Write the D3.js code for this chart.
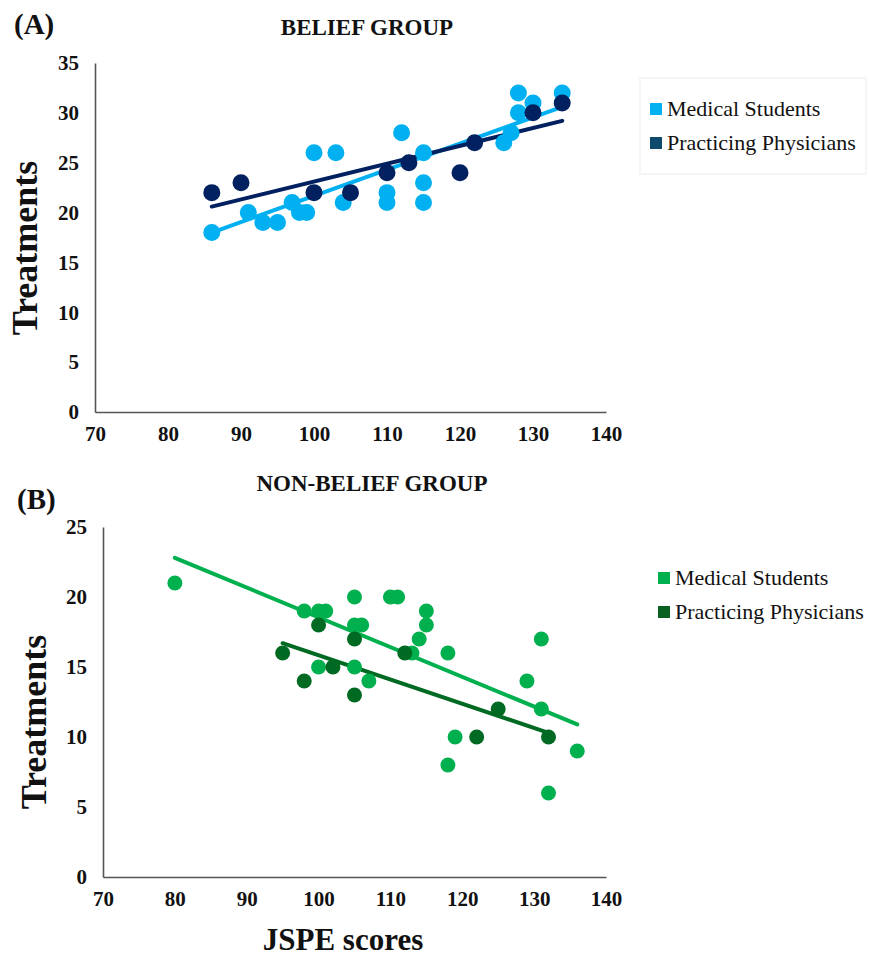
<!DOCTYPE html>
<html>
<head>
<meta charset="utf-8">
<script src="https://cdn.jsdelivr.net/npm/d3@7"></script>
<style>
	body { margin: 0; background: #fff; }
	svg text { font-family: "Liberation Serif", "Times New Roman", serif; fill: #111; }
	.tick text { font-weight: bold; font-size: 21px; font-family: "Liberation Serif", serif; }
</style>
</head>
<body>
<svg id="chart" width="869" height="959"></svg>
<script>
// tick labels
var x_ticks = [70, 80, 90, 100, 110, 120, 130, 140];
var belief_y_ticks = [0, 5, 10, 15, 20, 25, 30, 35];
var nonbelief_y_ticks = [0, 5, 10, 15, 20, 25];
var series_names = ["Medical Students", "Practicing Physicians"];

// (A) belief group: [JSPE score, treatments]
var belief_students = [
	[86, 18], [91, 20], [93, 19], [95, 19], [97, 21], [98, 20], [99, 20],
	[100, 26], [103, 26], [104, 21], [110, 22], [110, 21], [112, 28],
	[115, 26], [115, 23], [115, 21], [126, 27], [127, 28], [128, 30],
	[128, 32], [130, 31], [134, 32]
];
var belief_physicians = [
	[86, 22], [90, 23], [100, 22], [105, 22], [110, 24], [113, 25],
	[120, 24], [122, 27], [130, 30], [134, 31]
];
var belief_students_trend = [[86, 18.0], [134, 30.6]];
var belief_physicians_trend = [[86, 20.6], [134, 29.2]];

// (B) non-belief group
var nonbelief_students = [
	[80, 21], [98, 19], [100, 19], [101, 19], [105, 20], [105, 18], [106, 18],
	[100, 15], [105, 15], [107, 14], [110, 20], [111, 20], [115, 19],
	[115, 18], [114, 17], [113, 16], [118, 16], [131, 17], [129, 14],
	[131, 12], [119, 10], [118, 8], [136, 9], [132, 6]
];
var nonbelief_physicians = [
	[95, 16], [98, 14], [100, 18], [102, 15], [105, 17], [105, 13],
	[112, 16], [125, 12], [122, 10], [132, 10]
];
var nonbelief_students_trend = [[80, 22.8], [136, 10.9]];
var nonbelief_physicians_trend = [[95, 16.7], [132, 10.3]];

var svg = d3.select("#chart");

draw_panel({
	label: "(A)", title: "BELIEF GROUP",
	left: 95, right: 606, top: 63, bottom: 412,
	y_max: 35, y_ticks: belief_y_ticks,
	series: [
		{points: belief_students, trend: belief_students_trend, color: "#00b0f0", r: 8.5},
		{points: belief_physicians, trend: belief_physicians_trend, color: "#002060", r: 8.5}
	],
	legend_colors: ["#00b0f0", "#0e4a6b"],
	legend: {x: 650, y: 103, box: true},
	label_pos: {x: 14, y: 34}, title_pos: {x: 367, y: 35},
	ytitle_pos: {x: 37, y: 248}
});

draw_panel({
	label: "(B)", title: "NON-BELIEF GROUP",
	left: 103, right: 606, top: 527, bottom: 877,
	y_max: 25, y_ticks: nonbelief_y_ticks,
	series: [
		{points: nonbelief_students, trend: nonbelief_students_trend, color: "#00b04f", r: 7.5},
		{points: nonbelief_physicians, trend: nonbelief_physicians_trend, color: "#006a22", r: 7.5}
	],
	legend_colors: ["#00b04f", "#0a5f22"],
	legend: {x: 658, y: 572, box: false},
	label_pos: {x: 17, y: 509}, title_pos: {x: 372, y: 491},
	ytitle_pos: {x: 46, y: 722}
});

svg.append("text")
	.attr("x", 343).attr("y", 950)
	.attr("text-anchor", "middle")
	.style("font-weight", "bold").style("font-size", "31px")
	.text("JSPE scores");

function draw_panel(p){
	var x = d3.scaleLinear().domain([70, 140]).range([p.left, p.right]);
	var y = d3.scaleLinear().domain([0, p.y_max]).range([p.bottom, p.top]);
	var g = svg.append("g");

	var x_axis = g.append("g")
		.attr("transform", "translate(0," + p.bottom + ")")
		.call(d3.axisBottom(x).tickValues(x_ticks).tickSize(0).tickPadding(14));
	var y_axis = g.append("g")
		.attr("transform", "translate(" + p.left + ",0)")
		.call(d3.axisLeft(y).tickValues(p.y_ticks).tickSize(0).tickPadding(16));
	[x_axis, y_axis].forEach(function(a){
		a.attr("font-family", null).attr("font-size", null);
		a.select(".domain").attr("stroke", "#555").attr("stroke-width", 1.6);
		a.selectAll(".tick text").attr("fill", "#111");
	});

	// trend lines go under the points
	p.series.forEach(function(s){
		g.append("line")
			.attr("x1", x(s.trend[0][0])).attr("y1", y(s.trend[0][1]))
			.attr("x2", x(s.trend[1][0])).attr("y2", y(s.trend[1][1]))
			.attr("stroke", s.color).attr("stroke-width", 4)
			.attr("stroke-linecap", "round");
	});
	p.series.forEach(function(s){
		g.selectAll(null).data(s.points).enter()
			.append("circle")
			.attr("cx", function(d){ return x(d[0]); })
			.attr("cy", function(d){ return y(d[1]); })
			.attr("r", s.r)
			.attr("fill", s.color);
	});

	g.append("text")
		.attr("x", p.label_pos.x).attr("y", p.label_pos.y)
		.style("font-weight", "bold").style("font-size", "29px")
		.text(p.label);
	g.append("text")
		.attr("x", p.title_pos.x).attr("y", p.title_pos.y)
		.attr("text-anchor", "middle")
		.style("font-weight", "bold").style("font-size", "23px")
		.text(p.title);
	g.append("text")
		.attr("transform", "translate(" + p.ytitle_pos.x + "," + p.ytitle_pos.y + ") rotate(-90)")
		.attr("text-anchor", "middle")
		.style("font-weight", "bold").style("font-size", "36px")
		.text("Treatments");

	var lg = g.append("g").attr("transform", "translate(" + p.legend.x + "," + p.legend.y + ")");
	if(p.legend.box){
		lg.append("rect")
			.attr("x", -10).attr("y", -25).attr("width", 226).attr("height", 96)
			.attr("fill", "none").attr("stroke", "#ececec");
	}
	series_names.forEach(function(name, i){
		lg.append("rect")
			.attr("x", 0).attr("y", i * 34)
			.attr("width", 12).attr("height", 12)
			.attr("fill", p.legend_colors[i]);
		lg.append("text")
			.attr("x", 17).attr("y", i * 34 + 13)
			.style("font-size", "22px")
			.text(name);
	});
}
</script>
</body>
</html>
